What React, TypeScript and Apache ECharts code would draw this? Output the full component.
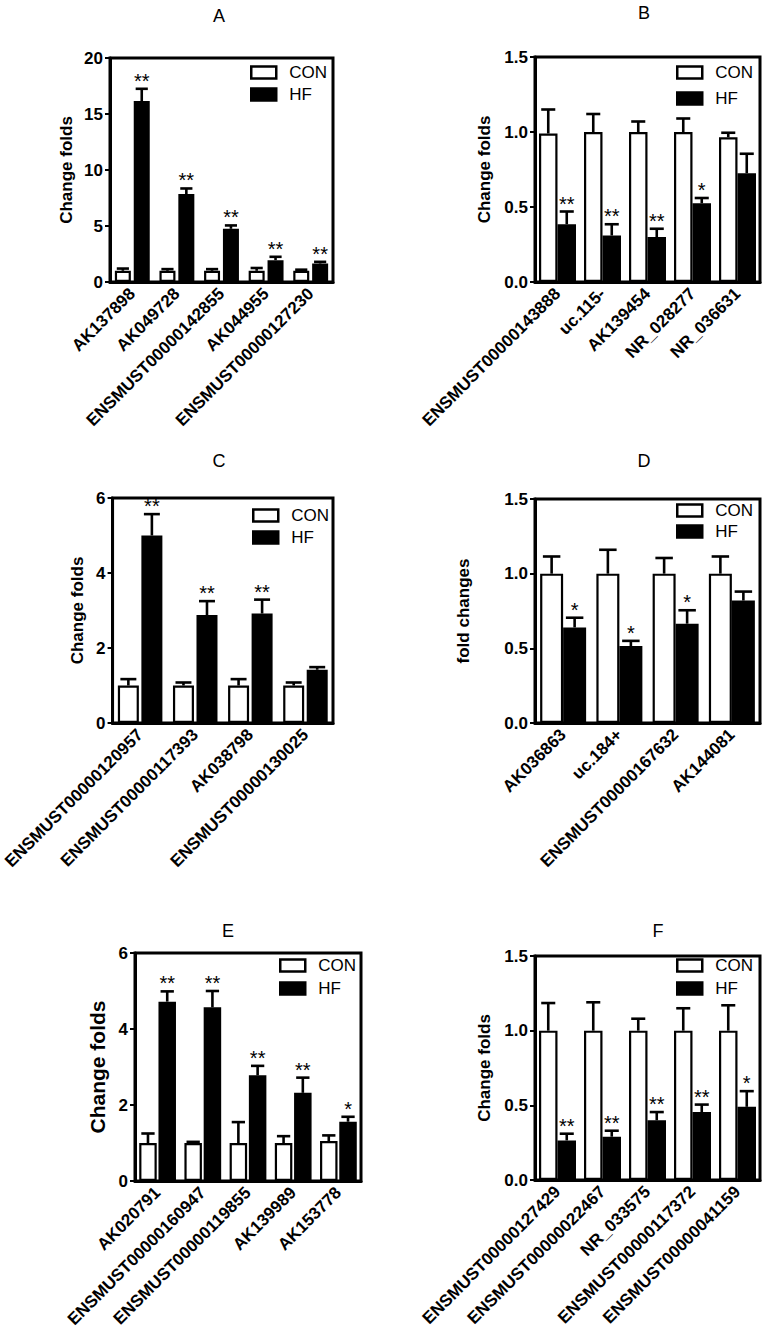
import React, { useEffect, useRef } from 'react';
import * as echarts from 'echarts';

// ---------- data ----------
const catsA = ['AK137898', 'AK049728', 'ENSMUST00000142855', 'AK044955', 'ENSMUST00000127230'];
const conA = [1.0, 1.0, 1.0, 1.0, 1.0];
const conErrA = [0.2, 0.15, 0.15, 0.25, 0.1];
const hfA = [16.15, 7.85, 4.75, 1.95, 1.65];
const hfErrA = [1.1, 0.5, 0.3, 0.3, 0.15];
const starsA = ['**', '**', '**', '**', '**'];

const catsB = ['ENSMUST00000143888', 'uc.115-', 'AK139454', 'NR_028277', 'NR_036631'];
const conB = [0.99, 1.0, 1.0, 1.0, 0.965];
const conErrB = [0.16, 0.12, 0.07, 0.09, 0.03];
const hfB = [0.385, 0.31, 0.3, 0.525, 0.725];
const hfErrB = [0.085, 0.075, 0.055, 0.035, 0.13];
const starsB = ['**', '**', '**', '*', ''];

const catsC = ['ENSMUST00000120957', 'ENSMUST00000117393', 'AK038798', 'ENSMUST00000130025'];
const conC = [1.0, 1.0, 1.0, 1.0];
const conErrC = [0.17, 0.08, 0.17, 0.08];
const hfC = [5.0, 2.88, 2.92, 1.42];
const hfErrC = [0.57, 0.37, 0.37, 0.07];
const starsC = ['**', '**', '**', ''];

const catsD = ['AK036863', 'uc.184+', 'ENSMUST00000167632', 'AK144081'];
const conD = [1.0, 1.0, 1.0, 1.0];
const conErrD = [0.115, 0.16, 0.105, 0.115];
const hfD = [0.64, 0.515, 0.665, 0.82];
const hfErrD = [0.065, 0.035, 0.09, 0.06];
const starsD = ['*', '*', '*', ''];

const catsE = ['AK020791', 'ENSMUST00000160947', 'ENSMUST00000119855', 'AK139989', 'AK153778'];
const conE = [1.0, 1.0, 1.0, 1.0, 1.05];
const conErrE = [0.25, 0.03, 0.55, 0.18, 0.15];
const hfE = [4.72, 4.57, 2.78, 2.32, 1.56];
const hfErrE = [0.27, 0.43, 0.25, 0.4, 0.13];
const starsE = ['**', '**', '**', '**', '*'];

const catsF = ['ENSMUST00000127429', 'ENSMUST00000022467', 'NR_033575', 'ENSMUST00000117372', 'ENSMUST00000041159'];
const conF = [1.0, 1.0, 1.0, 1.0, 1.0];
const conErrF = [0.185, 0.19, 0.08, 0.15, 0.17];
const hfF = [0.265, 0.29, 0.4, 0.455, 0.49];
const hfErrF = [0.045, 0.04, 0.055, 0.05, 0.105];
const starsF = ['**', '**', '**', '**', '*'];

const panels = [
  { title: 'A', cats: catsA, con: conA, conErr: conErrA, hf: hfA, hfErr: hfErrA, stars: starsA, yMax: 20, yInterval: 5, decimals: 0, yName: 'Change folds' },
  { title: 'B', cats: catsB, con: conB, conErr: conErrB, hf: hfB, hfErr: hfErrB, stars: starsB, yMax: 1.5, yInterval: 0.5, decimals: 1, yName: 'Change folds' },
  { title: 'C', cats: catsC, con: conC, conErr: conErrC, hf: hfC, hfErr: hfErrC, stars: starsC, yMax: 6, yInterval: 2, decimals: 0, yName: 'Change folds' },
  { title: 'D', cats: catsD, con: conD, conErr: conErrD, hf: hfD, hfErr: hfErrD, stars: starsD, yMax: 1.5, yInterval: 0.5, decimals: 1, yName: 'fold changes' },
  { title: 'E', cats: catsE, con: conE, conErr: conErrE, hf: hfE, hfErr: hfErrE, stars: starsE, yMax: 6, yInterval: 2, decimals: 0, yName: 'Change folds' },
  { title: 'F', cats: catsF, con: conF, conErr: conErrF, hf: hfF, hfErr: hfErrF, stars: starsF, yMax: 1.5, yInterval: 0.5, decimals: 1, yName: 'Change folds' },
];

// ---------- layout (pixels) ----------
const layouts = [
  { left: 110, top: 58, width: 223, height: 224, titleX: 219, titleTop: 7, nameGap: 35, nameSize: 17, barW: 16, gapFrac: 0.18, legLeft: 250, legTop: 64, legGap: 5 },
  { left: 535, top: 57, width: 225, height: 225, titleX: 644, titleTop: 4, nameGap: 42, nameSize: 17, barW: 18.5, gapFrac: 0, legLeft: 676, legTop: 64, legGap: 9 },
  { left: 110, top: 498, width: 223, height: 225, titleX: 219, titleTop: 452, nameGap: 27, nameSize: 17, barW: 21, gapFrac: 0.12, legLeft: 252, legTop: 507, legGap: 5 },
  { left: 535, top: 499, width: 225, height: 224, titleX: 644, titleTop: 452, nameGap: 63, nameSize: 17, barW: 23, gapFrac: 0, legLeft: 676, legTop: 502, legGap: 4 },
  { left: 135, top: 953, width: 226, height: 228, titleX: 228, titleTop: 922, nameGap: 27, nameSize: 21, barW: 17.5, gapFrac: 0.1, legLeft: 279, legTop: 957, legGap: 6 },
  { left: 535, top: 956, width: 225, height: 224, titleX: 658, titleTop: 922, nameGap: 42, nameSize: 17, barW: 18.5, gapFrac: 0, legLeft: 676, legTop: 957, legGap: 6 },
];

const FONT = '"Liberation Sans", Arial, Helvetica, sans-serif';

function buildOption() {
  const title: any[] = [];
  const grid: any[] = [];
  const xAxis: any[] = [];
  const yAxis: any[] = [];
  const legend: any[] = [];
  const series: any[] = [];

  panels.forEach((p, i) => {
    const L = layouts[i];
    title.push({
      text: p.title,
      left: L.titleX,
      top: L.titleTop,
      textAlign: 'center',
      textStyle: { fontSize: 18, fontWeight: 'normal', color: '#000', fontFamily: FONT },
      padding: 0,
    });
    grid.push({
      left: L.left, top: L.top, width: L.width, height: L.height,
      show: true, borderColor: '#000', borderWidth: 3, backgroundColor: 'transparent',
    });
    xAxis.push({
      type: 'category', gridIndex: i, data: p.cats,
      axisLine: { show: true, lineStyle: { color: '#000', width: 3 } },
      axisTick: { show: false },
      axisLabel: { rotate: 45, interval: 0, fontWeight: 'bold', fontSize: 17, color: '#000', margin: 9, fontFamily: FONT },
      splitLine: { show: false },
    });
    yAxis.push({
      type: 'value', gridIndex: i, min: 0, max: p.yMax, interval: p.yInterval,
      axisLine: { show: true, lineStyle: { color: '#000', width: 3 } },
      axisTick: { show: true, length: 5, lineStyle: { color: '#000', width: 2 } },
      axisLabel: {
        fontWeight: 'bold', fontSize: 17, color: '#000', margin: 7, fontFamily: FONT,
        formatter: (v: number) => v.toFixed(p.decimals),
      },
      splitLine: { show: false },
      name: p.yName, nameLocation: 'middle', nameGap: L.nameGap,
      nameTextStyle: { fontWeight: 'bold', fontSize: L.nameSize, color: '#000', fontFamily: FONT },
    });
    legend.push({
      left: L.legLeft, top: L.legTop, orient: 'vertical', padding: 0,
      itemGap: L.legGap, itemWidth: 25, itemHeight: 12, icon: 'rect',
      textStyle: { fontSize: 17, color: '#000', fontFamily: FONT, padding: [0, 0, 0, 8] },
      selectedMode: false,
      data: [
        { name: 'CON', itemStyle: { color: '#fff', borderColor: '#000', borderWidth: 2.5 } },
        { name: 'HF', itemStyle: { color: '#000', borderColor: '#000', borderWidth: 2.5 } },
      ],
    });
    const gapStr = `${L.gapFrac * 100}%`;
    series.push({
      type: 'bar', name: 'CON', xAxisIndex: i, yAxisIndex: i, data: p.con,
      barWidth: L.barW, barGap: gapStr,
      itemStyle: { color: '#fff', borderColor: '#000', borderWidth: 2.2 },
      z: 2,
    });
    series.push({
      type: 'bar', name: 'HF', xAxisIndex: i, yAxisIndex: i, data: p.hf,
      barWidth: L.barW, barGap: gapStr,
      itemStyle: { color: '#000', borderColor: '#000', borderWidth: 2.2 },
      z: 2,
    });
    const offset = (L.barW + L.barW * L.gapFrac) / 2;
    const cap = L.barW * 0.38;
    const errData = [
      ...p.con.map((v, j) => [j, v, p.conErr[j], -1]),
      ...p.hf.map((v, j) => [j, v, p.hfErr[j], 1]),
    ];
    series.push({
      type: 'custom', name: 'err' + p.title, xAxisIndex: i, yAxisIndex: i,
      data: errData, encode: { x: 0, y: 1 }, z: 3, silent: true,
      renderItem: (params: any, api: any) => {
        const j = api.value(0);
        const v = api.value(1);
        const e = api.value(2);
        const side = api.value(3);
        const base = api.coord([j, v]);
        const tp = api.coord([j, v + e]);
        const x = base[0] + side * offset;
        const children: any[] = [
          { type: 'line', shape: { x1: x, y1: base[1], x2: x, y2: tp[1] }, style: { stroke: '#000', lineWidth: 2.6 } },
          { type: 'line', shape: { x1: x - cap, y1: tp[1], x2: x + cap, y2: tp[1] }, style: { stroke: '#000', lineWidth: 2.6 } },
        ];
        const s = side > 0 ? p.stars[j] : '';
        if (s) {
          children.push({
            type: 'text', x: x, y: tp[1] - 8,
            style: { text: s, align: 'center', verticalAlign: 'middle', fontSize: 20, fontFamily: FONT, fill: '#000' },
          });
        }
        return { type: 'group', children };
      },
    });
  });

  return { animation: false, backgroundColor: '#fff', title, grid, xAxis, yAxis, legend, series };
}

export default function App() {
  const ref = useRef<HTMLDivElement>(null);
  useEffect(() => {
    if (!ref.current) return;
    const chart = echarts.init(ref.current, null, { renderer: 'svg' });
    chart.setOption(buildOption() as any);
    return () => chart.dispose();
  }, []);
  return (
    <div
      ref={ref}
      style={{ position: 'absolute', left: 0, top: 0, width: 766, height: 1333, background: '#fff' }}
    />
  );
}
